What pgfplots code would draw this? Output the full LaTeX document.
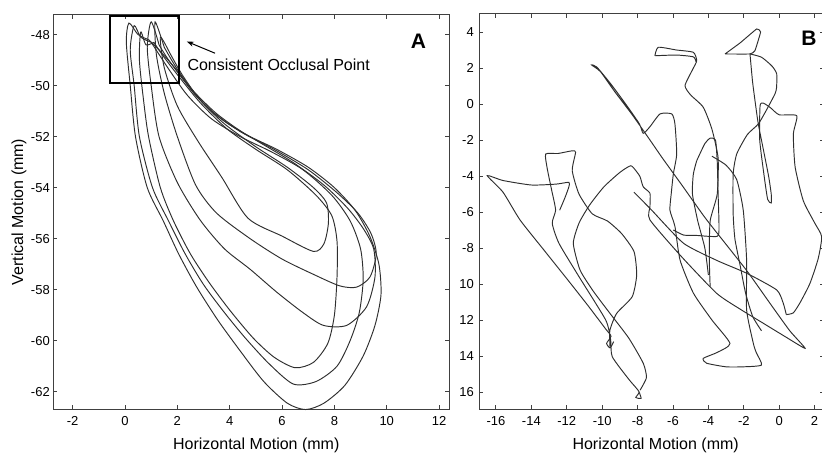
\documentclass[border=0pt]{standalone}
\usepackage{fontspec}
\setmainfont{Liberation Sans}
\usepackage{pgfplots}
\pgfplotsset{compat=1.18}
\usetikzlibrary{arrows.meta}

\pgfplotsset{
  motion/.style={
    scale only axis,
    clip=false,
    axis line style={black!75, line width=1pt},
    tick style={black!75, line width=0.9pt},
    major tick length=4pt,
    tick align=inside,
    /pgf/number format/assume math mode=true,
    ticklabel style={font=\fontsize{13}{14}\selectfont},
    xticklabel style={yshift=-4pt},
    label style={font=\fontsize{16}{18}\selectfont},
  },
  trace/.style={black!82, line width=0.95pt, smooth, tension=0.45, mark=none},
}

\begin{document}
\begin{tikzpicture}[x=1pt,y=1pt]
\useasboundingbox (0,0) rectangle (822,453);

% ---------------- panel A ----------------
\begin{axis}[motion,
    at={(53.3pt,43.7pt)}, anchor=south west,
    width=396pt, height=394.6pt,
    xmin=-2.74, xmax=12.39, ymin=-62.69, ymax=-47.22,
    xtick={-2,0,...,12}, ytick={-62,-60,...,-48},
    xlabel={Horizontal Motion (mm)},
    xlabel style={at={(axis description cs:0.5126,-0.1019)}, anchor=base},
    ylabel={Vertical Motion (mm)},
    ylabel style={at={(axis description cs:-0.0866,0.5)}, anchor=center},
]
% outer cycle
\addplot[trace] coordinates {
 (0.9,-48.2) (0.5,-48.0) (0.15,-47.55) (0.05,-48.3) (0.2,-50) (0.4,-52) (0.85,-54)
 (1.46,-55.3) (2.05,-56.6) (2.74,-57.9) (3.55,-59.2) (4.4,-60.4) (5.3,-61.6)
 (6.2,-62.45) (6.9,-62.7) (7.6,-62.45) (8.4,-61.75) (9.1,-60.6) (9.55,-59.4)
 (9.78,-58.2) (9.7,-57.0) (9.35,-55.9) (8.8,-54.9) (8.0,-54.0) (7.0,-53.2)
 (5.8,-52.5) (4.6,-51.9) (3.5,-51.1) (2.6,-50.2) (1.9,-49.3) (1.3,-48.6) (0.9,-48.2)
};
\addplot[trace] coordinates {
 (1.0,-48.3) (0.6,-48.1) (0.35,-47.65) (0.2,-48.6) (0.35,-50) (0.55,-52) (1.05,-54)
 (1.66,-55.3) (2.3,-56.6) (3.0,-57.8) (3.8,-58.9) (4.6,-59.9) (5.5,-60.9)
 (6.43,-61.7) (7.3,-61.6) (8.1,-61.0) (8.6,-60.0) (8.95,-58.9) (9.1,-57.6)
 (9.0,-56.4) (8.6,-55.3) (7.9,-54.3) (6.8,-53.3) (5.6,-52.6) (4.4,-52.0)
 (3.3,-51.3) (2.4,-50.4) (1.7,-49.4) (1.0,-48.3)
};
\addplot[trace] coordinates {
 (1.1,-48.3) (0.8,-48.4) (0.6,-47.9) (0.55,-49) (0.7,-50.5) (0.9,-52) (1.35,-54)
 (1.85,-55.3) (2.5,-56.6) (3.2,-57.7) (4.0,-58.8) (4.9,-59.9) (5.7,-60.65)
 (6.5,-61.06) (7.2,-60.85) (7.75,-60.1) (8.0,-59.0) (8.1,-57.5) (8.1,-56.1)
 (7.9,-55.1) (7.3,-54.3) (6.2,-53.3) (5.0,-52.5) (3.9,-51.7) (2.9,-50.7)
 (2.1,-49.7) (1.5,-48.9) (1.1,-48.3)
};
\addplot[trace] coordinates {
 (1.3,-48.4) (1.0,-47.5) (0.85,-48.5) (1.0,-50) (1.3,-52) (2.0,-53.8) (2.87,-55.27)
 (3.8,-56.4) (4.78,-57.2) (5.8,-58.1) (6.8,-58.9) (7.58,-59.4) (8.47,-59.4)
 (9.23,-58.67) (9.55,-57.5) (9.5,-56.4) (9.1,-55.6) (8.5,-54.8) (7.6,-53.9)
 (6.4,-53.0) (5.1,-52.2) (3.8,-51.4) (2.8,-50.5) (2.1,-49.6) (1.6,-48.9) (1.3,-48.4)
};
\addplot[trace] coordinates {
 (1.5,-48.5) (1.15,-47.5) (1.2,-48.8) (1.5,-50.3) (2.0,-52) (2.7,-53.9) (3.5,-55.0)
 (4.78,-56.0) (6.0,-56.8) (7.2,-57.4) (8.2,-57.85) (8.85,-57.9) (9.36,-57.5)
 (9.6,-56.6) (9.4,-55.8) (8.9,-55.0) (8.1,-54.2) (7.0,-53.3) (5.7,-52.5)
 (4.4,-51.8) (3.3,-51.0) (2.5,-50.1) (1.9,-49.2) (1.5,-48.5)
};
\addplot[trace] coordinates {
 (1.7,-48.7) (1.35,-48.1) (1.5,-49.3) (2.0,-50.8) (2.8,-52.2) (3.7,-53.6)
 (4.7,-55.2) (6.0,-55.9) (7.2,-56.5) (7.6,-56.2) (7.77,-55.4) (7.7,-54.6)
 (7.2,-54.0) (6.2,-53.2) (5.0,-52.4) (3.8,-51.5) (2.9,-50.6) (2.2,-49.6) (1.7,-48.7)
};
% annotation
\draw[line width=2.4pt, black] (axis cs:-0.57,-49.9) rectangle (axis cs:2.06,-47.26);
\draw[-{Stealth[length=7pt,width=5pt]}, line width=1pt, black]
  (axis cs:3.44,-48.73) -- (axis cs:2.36,-48.27);
\node[anchor=west, inner sep=0pt, font=\fontsize{16}{18}\selectfont]
  at (axis cs:2.38,-49.18) {Consistent Occlusal Point};
\node[inner sep=0pt, font=\bfseries\fontsize{21}{21}\selectfont]
  at (axis cs:11.21,-48.25) {A};
\end{axis}

% ---------------- panel B ----------------
\begin{axis}[motion,
    at={(479.3pt,43.7pt)}, anchor=south west,
    width=344.5pt, height=395.3pt,
    xmin=-16.94, xmax=2.52, ymin=-16.96, ymax=5.0,
    xtick={-16,-14,...,2}, ytick={-16,-14,...,4},
    yticklabels={16,14,12,10,-8,-6,-4,-2,0,2,4},
    yticklabel style={xshift=-2pt},
    xlabel={Horizontal Motion (mm)},
    xlabel style={at={(axis description cs:0.5119,-0.1017)}, anchor=base},
]
\addplot[trace, tension=0.35] coordinates {
 (-12.4,-5.9) (-12.1,-5.2) (-11.88,-4.6) (-11.88,-4.35) (-12.6,-4.45) (-14.0,-4.5)
 (-15.6,-4.25) (-16.49,-3.98) (-15.6,-4.9) (-14.64,-6.44) (-13.3,-8.1) (-12.0,-9.7)
 (-10.8,-11.2) (-9.8,-12.5) (-9.5,-12.9) (-9.75,-13.3) (-9.55,-13.55) (-9.35,-13.2)
};
\addplot[trace, tension=0.35] coordinates {
 (-9.56,-13.48) (-9.56,-12.56) (-9.18,-11.63) (-8.3,-10.7) (-8.05,-9.5) (-8.2,-8.2)
 (-8.9,-7.2) (-9.7,-6.5) (-10.56,-6.1) (-11.31,-5.0) (-11.69,-3.7) (-11.5,-2.68)
 (-11.69,-2.6) (-12.5,-2.75) (-13.19,-2.78) (-13.1,-3.6) (-12.85,-4.8) (-12.63,-5.89)
 (-12.82,-6.63) (-12.44,-7.74) (-11.31,-9.59) (-9.8,-12.0) (-9.52,-13.1) (-9.43,-14.04)
 (-8.49,-15.3) (-7.92,-15.98) (-8.1,-16.3) (-7.8,-16.35) (-7.92,-15.98)
};
\addplot[trace, tension=0.35] coordinates {
 (-7.86,-15.9) (-7.5,-15.2) (-7.68,-14.4) (-8.5,-13.0) (-9.56,-11.63) (-10.5,-10.4)
 (-11.25,-9.22) (-11.63,-7.74) (-11.3,-6.6) (-10.7,-5.6) (-9.9,-4.6) (-9.0,-3.8)
 (-8.39,-3.43) (-8.1,-3.7) (-7.86,-4.04) (-7.68,-4.6) (-7.3,-4.96) (-7.3,-5.7)
 (-7.3,-6.44) (-5.5,-8.5) (-3.53,-10.52) (-2.2,-11.4) (-0.9,-12.18) (0.3,-12.9)
 (1.46,-13.57) (0.6,-12.6) (-0.5,-11.1) (-1.8,-9.3) (-3.0,-7.8) (-4.2,-6.3)
 (-5.5,-4.5) (-6.6,-3.0) (-7.3,-2.0) (-8.3,-0.6) (-9.3,0.7) (-10.1,1.8) (-10.6,2.17)
 (-10.3,2.05) (-9.5,1.1) (-8.6,-0.1) (-7.9,-1.1) (-7.68,-1.63) (-7.3,-1.26)
 (-6.73,-0.55) (-6.07,-0.55) (-5.89,-1.1) (-5.79,-2.78) (-5.98,-3.89) (-6.1,-5.0)
 (-6.17,-5.9) (-5.89,-6.8) (-5.6,-8.67) (-4.85,-10.5) (-3.8,-12.0) (-2.78,-13.3)
 (-3.5,-13.8) (-4.29,-14.13) (-4.1,-14.4) (-3.0,-14.6) (-2.03,-14.6) (-1.0,-14.5)
 (-1.3,-13.8) (-1.46,-13.3) (-1.84,-11.44) (-1.84,-8.67) (-2.03,-5.9) (-2.4,-4.2)
 (-3.0,-3.4) (-3.8,-2.9)
};
\addplot[trace, tension=0.35] coordinates {
 (-7.02,2.68) (-6.83,3.15) (-5.8,3.0) (-4.85,2.87) (-4.66,2.4) (-4.9,1.9) (-5.32,1.02)
 (-5.0,0.5) (-4.29,-0.18) (-3.8,-1.4) (-3.45,-3.0) (-3.5,-5.0) (-3.9,-6.5)
 (-3.95,-8.5) (-3.9,-10.15)
};
\addplot[trace, tension=0.35] coordinates {
 (-7.02,2.68) (-5.8,2.72) (-4.85,2.62) (-4.7,2.35)
};
\addplot[trace, tension=0.2] coordinates {
 (-3.06,2.78) (-2.2,3.4) (-1.27,4.17) (-1.05,4.0) (-1.37,2.96) (-1.65,2.78) (-3.06,2.78)
};
\addplot[trace, tension=0.35] coordinates {
 (-1.65,2.78) (-1.0,2.6) (-0.4,2.1) (-0.14,1.67) (-0.15,0.9) (-0.24,0.56) (-0.7,-0.3)
 (-1.18,-1.11) (-1.8,-1.7) (-2.4,-2.78) (-2.6,-3.9) (-2.6,-6.1) (-2.5,-7.5)
 (-2.2,-9.0) (-1.9,-10.5) (-1.5,-11.8) (-1.0,-12.6)
};
\addplot[trace, tension=0.35] coordinates {
 (-1.65,2.78) (-1.5,1.2) (-1.3,-0.3) (-1.18,-1.11) (-0.9,-2.5) (-0.6,-4.0)
 (-0.45,-5.0) (-0.45,-5.5) (-0.65,-5.3) (-0.85,-4.0) (-1.1,-2.0) (-1.08,-0.1)
 (-0.9,0.05) (-0.5,-0.2) (0.0,-0.6) (0.99,-0.65) (0.8,-1.67) (0.9,-3.5)
 (1.36,-5.37) (2.0,-6.6) (2.4,-7.37) (2.2,-8.6) (1.74,-9.96) (1.2,-11.0)
 (0.8,-11.6) (0.4,-11.7)
};
\addplot[trace, tension=0.35] coordinates {
 (-4.66,-3.15) (-4.2,-2.2) (-3.9,-1.9) (-3.6,-2.0) (-3.5,-3.2) (-3.45,-5.0)
 (-3.4,-6.8) (-3.5,-7.35) (-4.7,-7.3) (-5.4,-7.28) (-5.98,-7.0)
};
\addplot[trace, tension=0.35] coordinates {
 (-4.66,-3.15) (-4.85,-3.9) (-4.9,-5.0) (-4.6,-6.5) (-4.2,-8.0) (-4.0,-9.5)
};
\addplot[trace, tension=0.35] coordinates {
 (-8.2,-4.9) (-7.2,-5.9) (-5.4,-7.74) (-3.5,-8.7) (-1.84,-9.4) (-0.14,-10.33)
 (0.23,-11.07) (0.4,-11.7)
};
\node[inner sep=0pt, font=\bfseries\fontsize{21}{21}\selectfont]
  at (axis cs:1.68,3.67) {B};
\end{axis}
\end{tikzpicture}
\end{document}
